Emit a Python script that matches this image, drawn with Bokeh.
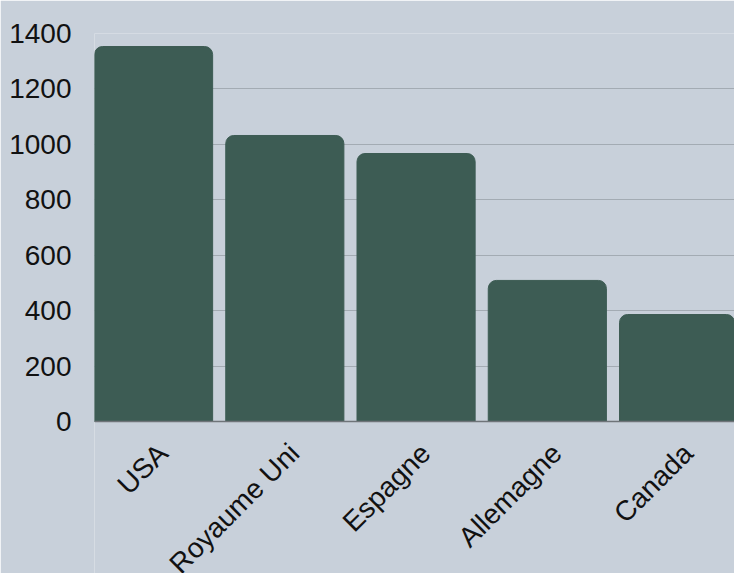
import math
from bokeh.plotting import figure
from bokeh.models import Range1d, FixedTicker, ColumnDataSource, Span
from bokeh.core.properties import value
from bokeh.embed import file_html
from bokeh.resources import INLINE

countries = ["USA", "Royaume Uni", "Espagne", "Allemagne", "Canada"]
values = [1353, 1032, 967, 509, 386]
y_ticks = [0, 200, 400, 600, 800, 1000, 1200, 1400]

xs = [i + 0.5 for i in range(len(countries))]
src = ColumnDataSource(dict(x=xs, top=values, label=countries, y0=[0] * len(xs)))

# y range extended below zero so the slanted category labels sit inside the frame
p = figure(width=734, height=573, output_backend="svg", toolbar_location=None,
           x_range=Range1d(0.05, 4.926), y_range=Range1d(-548.5, 1400),
           x_axis_location=None,
           min_border_left=94, min_border_right=0, min_border_top=33, min_border_bottom=0)
p.background_fill_color = "#c8d0da"
p.border_fill_color = "#c8d0da"
p.outline_line_color = None

p.xgrid.grid_line_color = None
p.ygrid.grid_line_color = "#a3abb3"
p.ygrid.grid_line_width = 1.2
p.ygrid.ticker = FixedTicker(ticks=y_ticks)

p.vbar(x="x", top="top", width=0.9, bottom=0, source=src, color="#3d5c54",
       border_radius=(8, 8, 0, 0))

p.add_layout(Span(location=0, dimension="width", line_color="#6f7479", line_width=1.5))

p.text(x="x", y="y0", text="label", source=src, angle=math.pi / 4,
       text_align="right", text_baseline="alphabetic", x_offset=9.5, y_offset=27,
       text_font=value("Liberation Sans"), text_font_size="28px", text_color="#111111")

p.yaxis.ticker = FixedTicker(ticks=y_ticks)
p.yaxis.axis_line_color = None
p.yaxis.major_tick_line_color = None
p.yaxis.major_tick_out = 0
p.yaxis.major_tick_in = 0
p.yaxis.minor_tick_line_color = None
p.yaxis.major_label_standoff = 23
p.yaxis.major_label_text_font = "Liberation Sans"
p.yaxis.major_label_text_font_size = "28px"
p.yaxis.major_label_text_color = "#111111"

open("out.html", "w").write(file_html(p, INLINE))
